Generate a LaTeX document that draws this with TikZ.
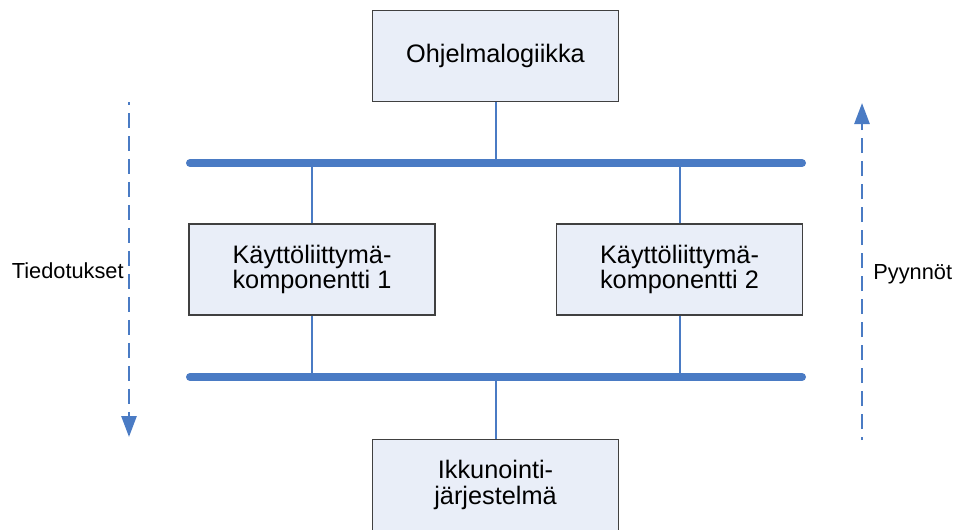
\documentclass[tikz,border=0pt]{standalone}
\usepackage{fontspec}
\setmainfont{Liberation Sans}
\usetikzlibrary{arrows.meta}

\definecolor{busblue}{HTML}{4A7BC4}
\definecolor{boxfill}{HTML}{E9EEF8}
\definecolor{boxline}{HTML}{404040}

\begin{document}
\begin{tikzpicture}[x=0.02cm,y=-0.02cm,
    bus/.style={busblue,line width=0.16cm,line cap=round},
    link/.style={busblue,line width=0.04cm},
    flow/.style={busblue,line width=0.055cm,dash pattern=on 0.3cm off 0.16cm,
      dash phase=0.24cm,-{Triangle[width=0.3cm,length=0.42cm]}},
    label/.style={inner sep=0pt,font=\fontsize{12.4}{14}\selectfont}]

      \useasboundingbox (0,0) rectangle (955,529);

      \begin{scope}[every node/.style={draw=boxline,fill=boxfill,line width=0.03cm,
          minimum width=4.92cm,minimum height=1.82cm,align=center,
          font=\fontsize{14.4}{14.6}\selectfont}]
        \node (logic) at (495.5,56)    {Ohjelmalogiikka};
        \node (comp1) at (312,269.5)   {Käyttöliittymä-\\komponentti 1};
        \node (comp2) at (679.5,269.5) {Käyttöliittymä-\\komponentti 2};
        \node (win)   at (495.5,485)   {Ikkunointi-\\järjestelmä};
      \end{scope}

      % bus ends
      \coordinate (top-l) at (190,163);
      \coordinate (top-r) at (802,163);
      \coordinate (bot-l) at (190,377);
      \coordinate (bot-r) at (802,377);

      \draw[link] (logic) -- (logic |- top-l);
      \draw[link] (comp1) -- (comp1 |- top-l);
      \draw[link] (comp2) -- (comp2 |- top-l);
      \draw[link] (comp1) -- (comp1 |- bot-l);
      \draw[link] (comp2) -- (comp2 |- bot-l);
      \draw[link] (win)   -- (win |- bot-l);

      \draw[bus] (top-l) -- (top-r);
      \draw[bus] (bot-l) -- (bot-r);

      % message flow
      \coordinate (down-a) at (129,102);
      \coordinate (down-b) at (129,437);
      \coordinate (up-a)   at (862,440);
      \coordinate (up-b)   at (862,103);
      \draw[flow] (down-a) -- (down-b);
      \draw[flow] (up-a) -- (up-b);

      \node[label,anchor=base east] (notices)  at (124,278) {Tiedotukset};
      \node[label,anchor=base west] (requests) at (873,279) {Pyynnöt};

    \end{tikzpicture}
\end{document}
